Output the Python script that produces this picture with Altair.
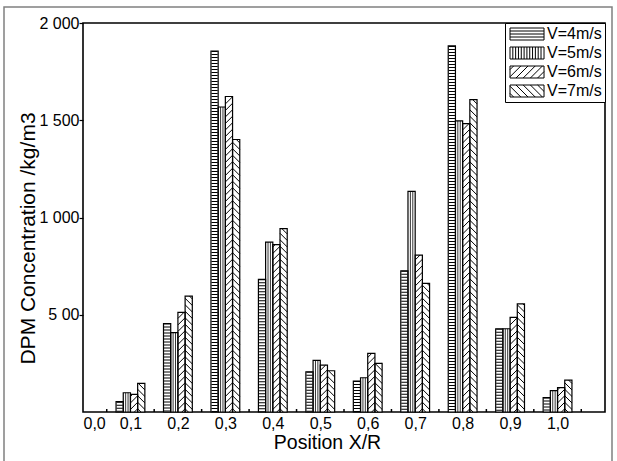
import altair as alt
import numpy as np
import pandas as pd

# ---------------- data ----------------
positions = [0.1, 0.2, 0.3, 0.4, 0.5, 0.6, 0.7, 0.8, 0.9, 1.0]
series = ["V=4m/s", "V=5m/s", "V=6m/s", "V=7m/s"]
v4 = [53, 455, 1856, 682, 207, 159, 726, 1882, 428, 74]
v5 = [99, 408, 1568, 873, 265, 176, 1134, 1497, 428, 110]
v6 = [91, 512, 1622, 861, 241, 301, 807, 1483, 486, 125]
v7 = [147, 596, 1401, 943, 212, 250, 661, 1606, 556, 164]
x_tick_values = [0.0, 0.1, 0.2, 0.3, 0.4, 0.5, 0.6, 0.7, 0.8, 0.9, 1.0]
x_minor_ticks = [0.05, 0.15, 0.25, 0.35, 0.45, 0.55, 0.65, 0.75, 0.85, 0.95, 1.05]
y_tick_values = [500, 1000, 1500, 2000]
y_tick_labels = ["5 00", "1 000", "1 500", "2 000"]

# ---------------- layout constants ----------------
W, H = 522, 389
XMAX, YMAX = 1.1, 2000
PX_X = W / XMAX
PX_Y = H / YMAX
BW = 7.2 / PX_X          # bar width in data units
DS = 6.5 / PX_Y          # diagonal hatch spacing (data units)
DH = 7.2 / PX_Y          # diagonal rise across one bar (45 deg)
FONT = "Liberation Sans"

values = {series[0]: v4, series[1]: v5, series[2]: v6, series[3]: v7}

rows = []
for si, s in enumerate(series):
    for p, v in zip(positions, values[s]):
        x0 = p + (si - 2) * BW
        rows.append({"series": s, "pos": p, "x0": x0, "x1": x0 + BW,
                     "xc": x0 + BW / 2, "value": v, "base": 0})
bars = pd.DataFrame(rows)

# vertical hatch lines (V=5)
vrows = []
for _, r in bars[bars.series == series[1]].iterrows():
    for k in (1, 2):
        vrows.append({"x0": r.x0 + k * BW / 3, "value": r.value, "base": 0})
vdf = pd.DataFrame(vrows)

# diagonal hatch lines (V=6 '/', V=7 '\')
drows = []
for _, r in bars[bars.series.isin(series[2:])].iterrows():
    for y in np.arange(-DH + DS / 2, r.value, DS):
        if r.series == series[2]:
            tlo = max(0.0, -y / DH)
            thi = min(1.0, (r.value - y) / DH)
            if thi > tlo:
                drows.append({"x0": r.x0 + tlo * BW, "value": y + DH * tlo,
                              "x1": r.x0 + thi * BW, "yb": y + DH * thi})
        else:
            tlo = max(0.0, (y + DH - r.value) / DH)
            thi = min(1.0, (y + DH) / DH)
            if thi > tlo:
                drows.append({"x0": r.x0 + tlo * BW, "value": y + DH * (1 - tlo),
                              "x1": r.x0 + thi * BW, "yb": y + DH * (1 - thi)})
ddf = pd.DataFrame(drows)

ticks = pd.DataFrame({"x0": x_minor_ticks, "value": 0, "y1": 3 / PX_Y})

# ---------------- legend swatch paths ----------------
# symbol unit = 6 px (size 144); swatch 34 x 12 px, extending to the right
SW_L, SW_R, HH = -1.0, 4.67, 1.0
rect = f"M{SW_L},-{HH}H{SW_R}V{HH}H{SW_L}Z"
p4 = rect + "".join(f"M{SW_L},{y}H{SW_R}" for y in (-0.5, 0, 0.5))
p5 = rect + "".join(f"M{SW_L + k * 0.47:.3f},-{HH}V{HH}" for k in range(1, 12))


def diag(forward):
    segs = ""
    step = 1.2
    span = 2 * HH
    for c in np.arange(SW_L - span + step / 2, SW_R, step):
        tlo = max(0.0, (SW_L - c) / span)
        thi = min(1.0, (SW_R - c) / span)
        if thi <= tlo:
            continue
        xa, xb = c + tlo * span, c + thi * span
        if forward:
            ya, yb = HH - tlo * span, HH - thi * span
        else:
            ya, yb = -HH + tlo * span, -HH + thi * span
        segs += f"M{xa:.3f},{ya:.3f}L{xb:.3f},{yb:.3f}"
    return rect + segs


paths = [p4, p5, diag(True), diag(False)]

# ---------------- chart ----------------
xs = alt.Scale(domain=[0, XMAX], nice=False, zero=False)
ys = alt.Scale(domain=[0, YMAX], nice=False)

y_expr = " : ".join(
    f"datum.value == {v} ? '{l}'" for v, l in zip(y_tick_values, y_tick_labels)
) + " : ''"

x_axis = alt.Axis(
    values=x_tick_values, ticks=False, domain=False, grid=False,
    labelExpr="replace(format(datum.value, '.1f'), '.', ',')",
    labelFont=FONT, labelFontSize=16, labelColor="black", labelPadding=3,
    title="Position X/R", titleFont=FONT, titleFontSize=19.5, titleFontWeight="normal",
    titleColor="black", titleX=244, titleY=30, titleBaseline="middle", titleAnchor="middle",
)
y_axis = alt.Axis(
    values=y_tick_values, ticks=True, tickSize=4, tickColor="black", tickWidth=1.2,
    domain=False, grid=False, labelExpr=y_expr,
    labelFont=FONT, labelFontSize=16, labelColor="black", labelPadding=0,
    title="DPM Concentration /kg/m3", titleFont=FONT, titleFontSize=21,
    titleFontWeight="normal", titleColor="black", titleX=-55, titleY=215,
    titleBaseline="middle", titleAngle=270, titleAlign="center",
)


def X(f="x0:Q"):
    return alt.X(f, scale=xs, axis=x_axis)


def Y(f="value:Q"):
    return alt.Y(f, scale=ys, axis=y_axis)


base = alt.Chart(bars)

fill_layer = base.mark_rect(fill="white", stroke=None).encode(
    x=X(), x2="x1:Q", y=Y(), y2="base:Q",
)

hstripe = alt.Chart(bars[bars.series == series[0]].assign(x0=lambda d: d.xc)).mark_rule(
    color="black", strokeWidth=6.2, strokeDash=[1, 2]
).encode(x=X(), y=Y(), y2="base:Q")

vstripe = alt.Chart(vdf).mark_rule(color="black", strokeWidth=0.8).encode(
    x=X(), y=Y(), y2="base:Q"
)

dstripe = alt.Chart(ddf).mark_rule(color="black", strokeWidth=1).encode(
    x=X(), x2="x1:Q", y=Y(), y2="yb:Q"
)

outline = base.mark_rect(fillOpacity=0, stroke="black", strokeWidth=1.2).encode(
    x=X(), x2="x1:Q", y=Y(), y2="base:Q"
)

minor = alt.Chart(ticks).mark_rule(color="black", strokeWidth=1.5).encode(
    x=X(), y=Y(), y2="y1:Q"
)

legend_layer = alt.Chart(
    pd.DataFrame({"series": series, "x0": 0.0, "value": 0.0})
).mark_point(opacity=0, filled=False).encode(
    x=X(), y=Y(),
    shape=alt.Shape(
        "series:N",
        scale=alt.Scale(domain=series, range=paths),
        legend=alt.Legend(
            title=None, orient="top-right", offset=0, padding=3,
            strokeColor="black", fillColor="white",
            symbolSize=144, symbolFillColor="white", symbolStrokeColor="black",
            symbolStrokeWidth=1, symbolOpacity=1,
            labelFont=FONT, labelFontSize=16, labelColor="black", labelOffset=23,
            rowPadding=3,
        ),
    ),
)

frame = alt.Chart(pd.DataFrame({"a": [0]})).mark_rect(
    fill=None, stroke="#808080", strokeWidth=1.5
).encode(
    x=alt.value(-79), x2=alt.value(529), y=alt.value(-16), y2=alt.value(470)
)

chart = alt.layer(
    fill_layer, frame, hstripe, vstripe, dstripe, outline, minor, legend_layer
).properties(
    width=W, height=H,
    padding={"left": 83, "top": 23, "right": 12, "bottom": 49},
    autosize=alt.AutoSizeParams(type="none"),
    background="white",
).configure_view(stroke="black", strokeWidth=1.6)

chart.save("out.html", embed_options={"renderer": "svg", "actions": False})
